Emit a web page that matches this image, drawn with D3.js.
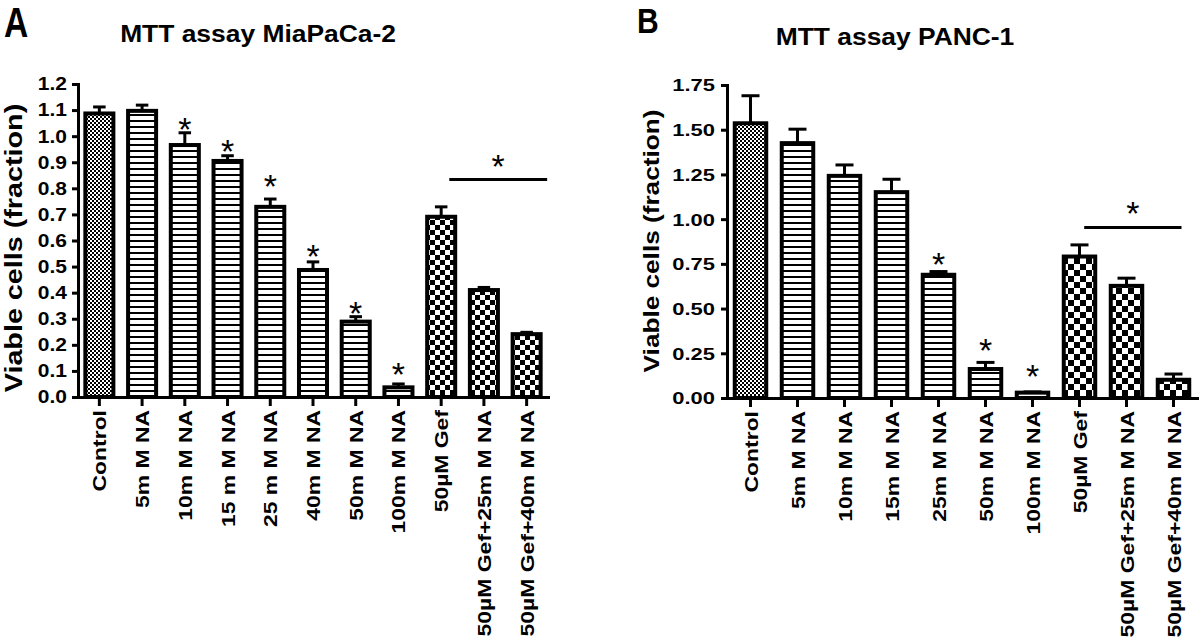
<!DOCTYPE html>
<html><head><meta charset="utf-8">
<script src="https://cdn.jsdelivr.net/npm/d3@7/dist/d3.min.js"></script>
<style>
body{margin:0;background:#fff;}
svg text{font-family:"Liberation Sans",Arial,sans-serif;font-weight:bold;fill:#000;}
</style></head><body>
<svg id="chart" width="1200" height="640"></svg>
<script>
// ---------- Panel A : MiaPaCa-2 ----------
const titleA = "MTT assay MiaPaCa-2";
const categoriesA = ["Control","5m M NA","10m M NA","15 m M NA","25 m M NA","40m M NA","50m M NA","100m M NA","50µM Gef","50µM Gef+25m M NA","50µM Gef+40m M NA"];
const valuesA = [1.087,1.097,0.966,0.905,0.729,0.487,0.289,0.037,0.691,0.410,0.241];
const errorsA = [0.025,0.022,0.047,0.020,0.030,0.031,0.019,0.013,0.038,0.010,0.007];
const yTicksA = [0,0.1,0.2,0.3,0.4,0.5,0.6,0.7,0.8,0.9,1.0,1.1,1.2];
const starCatsA = ["10m M NA","15 m M NA","25 m M NA","40m M NA","50m M NA","100m M NA"];
const starLevelsA = [1.055,0.972,0.838,0.570,0.352,0.116];
const sigSpanA = [8.19,10.48];      // in category-index units
const sigLevelsA = [0.834,0.915];   // line level, star level

// ---------- Panel B : PANC-1 ----------
const titleB = "MTT assay PANC-1";
const categoriesB = ["Control","5m M NA","10m M NA","15m M NA","25m M NA","50m M NA","100m M NA","50µM Gef","50µM Gef+25m M NA","50µM Gef+40m M NA"];
const valuesB = [1.536,1.425,1.242,1.151,0.689,0.162,0.030,0.791,0.627,0.102];
const errorsB = [0.154,0.078,0.061,0.072,0.018,0.037,0.004,0.065,0.043,0.032];
const yTicksB = [0,0.25,0.5,0.75,1.0,1.25,1.5,1.75];
const starCatsB = ["25m M NA","50m M NA","100m M NA"];
const starLevelsB = [0.788,0.307,0.162];
const sigSpanB = [7.10,9.17];
const sigLevelsB = [0.953,1.076];

const svg = d3.select("#chart");
const defs = svg.append("defs");

function makePatterns(id, stripe, cell){
  const f = defs.append("pattern").attr("id", id+"fine").attr("patternUnits","userSpaceOnUse").attr("width",4).attr("height",4);
  f.append("rect").attr("width",4).attr("height",4).attr("fill","#fff");
  f.append("rect").attr("width",2).attr("height",2).attr("fill","#000");
  f.append("rect").attr("x",2).attr("y",2).attr("width",2).attr("height",2).attr("fill","#000");
  const s = defs.append("pattern").attr("id", id+"stripe").attr("patternUnits","userSpaceOnUse").attr("width",8).attr("height",stripe);
  s.append("rect").attr("width",8).attr("height",stripe).attr("fill","#fff");
  s.append("rect").attr("width",8).attr("height",2).attr("fill","#000");
  const c = defs.append("pattern").attr("id", id+"checker").attr("patternUnits","userSpaceOnUse").attr("width",cell*2).attr("height",cell*2);
  c.append("rect").attr("width",cell*2).attr("height",cell*2).attr("fill","#fff");
  c.append("rect").attr("width",cell).attr("height",cell).attr("fill","#000");
  c.append("rect").attr("x",cell).attr("y",cell).attr("width",cell).attr("height",cell).attr("fill","#000");
}
makePatterns("pa", 6, 5);
makePatterns("pb", 6, 6);

function scaledText(g, x, y, txt, size, sx, anchor, rot){
  return g.append("text")
    .attr("transform", `translate(${x},${y})${rot?` rotate(${rot})`:""} scale(${sx},1)`)
    .attr("text-anchor", anchor)
    .style("font-size", size+"px")
    .text(txt);
}

function drawPanel(cfg){
  const g = svg.append("g");
  const x = d3.scaleBand().domain(cfg.cats).range(cfg.xRange).paddingInner(cfg.pad).paddingOuter(cfg.pad/2);
  const y = d3.scaleLinear().domain([0, cfg.yMax]).range(cfg.yRange);
  const bw = x.bandwidth();
  const step = x.step();
  const cx = c => x(c) + bw/2;
  const idxX = i => cx(cfg.cats[0]) + i*step;
  const data = cfg.cats.map((c,i)=>({c, v:cfg.vals[i], e:cfg.errs[i]}));
  const pat = c => c === "Control" ? "fine" : (c.indexOf("Gef") >= 0 ? "checker" : "stripe");

  // error bars (drawn first so bar stroke covers bottom)
  const eb = g.append("g").attr("stroke","#000").attr("stroke-width",3);
  eb.selectAll("line.v").data(data).join("line").attr("class","v")
    .attr("x1", d=>cx(d.c)).attr("x2", d=>cx(d.c))
    .attr("y1", d=>y(d.v)).attr("y2", d=>y(d.v+d.e));
  eb.selectAll("line.h").data(data).join("line").attr("class","h")
    .attr("x1", d=>cx(d.c)-cfg.cap/2).attr("x2", d=>cx(d.c)+cfg.cap/2)
    .attr("y1", d=>y(d.v+d.e)).attr("y2", d=>y(d.v+d.e));

  g.append("g").selectAll("rect").data(data).join("rect")
    .attr("x", d=>x(d.c)).attr("width", bw)
    .attr("y", d=>y(d.v)).attr("height", d=>y(0)-y(d.v))
    .attr("fill", d=>`url(#${cfg.pid}${pat(d.c)})`)
    .attr("stroke","#000").attr("stroke-width",4);

  // y axis
  const ya = g.append("g").attr("transform",`translate(${cfg.xRange[0]},0)`)
    .call(d3.axisLeft(y).tickValues(cfg.yTicks).tickFormat(d3.format(cfg.fmt)).tickSize(6).tickSizeOuter(0));
  ya.attr("font-family",null).attr("font-size",null);
  ya.select(".domain").attr("stroke-width",3).attr("stroke-linecap","square");
  ya.selectAll(".tick line").attr("stroke-width",3);
  ya.selectAll(".tick text").attr("x",0).attr("dy",null)
    .attr("transform",`translate(${-cfg.yGap},0) scale(${cfg.ySx},1)`)
    .attr("dominant-baseline","central")
    .style("font-size", cfg.yFont+"px");

  // x axis
  const xa = g.append("g").attr("transform",`translate(0,${y(0)})`)
    .call(d3.axisBottom(x).tickSize(9).tickSizeOuter(0));
  xa.attr("font-family",null).attr("font-size",null);
  xa.select(".domain").attr("stroke-width",3).attr("stroke-linecap","square");
  xa.selectAll(".tick line").attr("stroke-width",3);
  xa.selectAll(".tick text").attr("x",0).attr("y",0).attr("dy",null)
    .attr("text-anchor","end").attr("dominant-baseline","central")
    .attr("transform",`translate(1,${cfg.xLabY}) rotate(-90) scale(1.31,1)`)
    .style("font-size","17.5px");

  // stars
  g.append("g").selectAll("text").data(cfg.starCats).join("text")
    .attr("x", c=>cx(c)).attr("y",(c,i)=>y(cfg.starLevels[i])).attr("dy","0.57em")
    .attr("text-anchor","middle").style("font-size","34px").style("font-weight","normal").text("*");

  // significance line
  g.append("line").attr("x1", idxX(cfg.sigSpan[0])).attr("x2", idxX(cfg.sigSpan[1]))
    .attr("y1", y(cfg.sigLevels[0])).attr("y2", y(cfg.sigLevels[0]))
    .attr("stroke","#000").attr("stroke-width",3);
  g.append("text").attr("x",(idxX(cfg.sigSpan[0])+idxX(cfg.sigSpan[1]))/2).attr("y", y(cfg.sigLevels[1])).attr("dy","0.57em")
    .attr("text-anchor","middle").style("font-size","34px").style("font-weight","normal").text("*");

  // titles
  scaledText(g, cfg.titleX, cfg.titleY, cfg.title, 24, 1.1, "middle");
  scaledText(g, cfg.letterX, cfg.letterY, cfg.letter, cfg.letterSize, cfg.letterSx, "start");
  scaledText(g, cfg.yTitleX, cfg.yTitleY, "Viable cells (fraction)", cfg.yTitleSize, cfg.yTitleSx, "middle", -90);
}

drawPanel({pid:"pa", cats:categoriesA, vals:valuesA, errs:errorsA, yTicks:yTicksA, yMax:1.2, fmt:".1f",
  starCats:starCatsA, starLevels:starLevelsA, sigSpan:sigSpanA, sigLevels:sigLevelsA,
  xRange:[78,548], yRange:[397,84], pad:0.344, cap:12.5, yGap:11, ySx:1.2, yFont:17.5, xLabY:13,
  title:titleA, titleX:258, titleY:42, letter:"A", letterX:4, letterY:37, letterSize:42, letterSx:0.8,
  yTitleX:22, yTitleY:248, yTitleSize:23, yTitleSx:1.25});

drawPanel({pid:"pb", cats:categoriesB, vals:valuesB, errs:errorsB, yTicks:yTicksB, yMax:1.75, fmt:".2f",
  starCats:starCatsB, starLevels:starLevelsB, sigSpan:sigSpanB, sigLevels:sigLevelsB,
  xRange:[727,1197], yRange:[398,85], pad:0.33, cap:18, yGap:12, ySx:1.33, yFont:16.5, xLabY:13,
  title:titleB, titleX:895, titleY:45, letter:"B", letterX:637, letterY:33, letterSize:35, letterSx:0.86,
  yTitleX:659, yTitleY:241, yTitleSize:22, yTitleSx:1.19});
</script>
</body></html>
